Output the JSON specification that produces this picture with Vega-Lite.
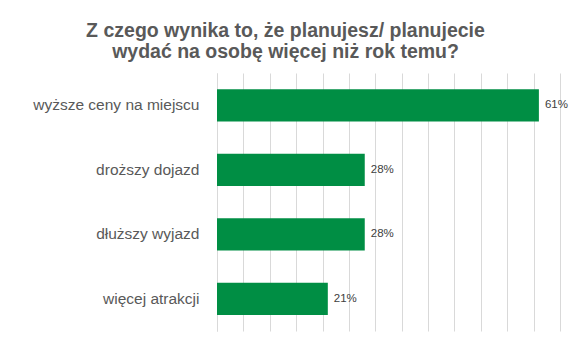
{
  "$schema": "https://vega.github.io/schema/vega-lite/v6.json",
  "width": 343,
  "height": 258,
  "autosize": "none",
  "padding": {"left": 217, "top": 73, "right": 11, "bottom": 12},
  "background": "white",
  "title": {
    "text": ["Z czego wynika to, że planujesz/ planujecie", "wydać na osobę więcej niż rok temu?"],
    "font": "Liberation Sans",
    "fontSize": 19.5,
    "fontWeight": "bold",
    "color": "#595959",
    "anchor": "middle",
    "dx": -103,
    "offset": 11,
    "lineHeight": 21
  },
  "data": {
    "values": [
      {"kategoria": "wyższe ceny na miejscu", "wartosc": 0.61},
      {"kategoria": "droższy dojazd", "wartosc": 0.28},
      {"kategoria": "dłuższy wyjazd", "wartosc": 0.28},
      {"kategoria": "więcej atrakcji", "wartosc": 0.21}
    ]
  },
  "encoding": {
    "y": {
      "field": "kategoria",
      "type": "nominal",
      "sort": null,
      "scale": {"paddingInner": 0.5, "paddingOuter": 0.25},
      "axis": {
        "title": null,
        "ticks": false,
        "domain": true,
        "domainColor": "#d9d9d9",
        "labelFont": "Liberation Sans",
        "labelFontSize": 15.5,
        "labelColor": "#595959",
        "labelPadding": 18
      }
    },
    "x": {
      "field": "wartosc",
      "type": "quantitative",
      "scale": {"domain": [0, 0.65], "nice": false},
      "axis": {
        "title": null,
        "labels": false,
        "ticks": false,
        "domain": false,
        "values": [0, 0.05, 0.1, 0.15, 0.2, 0.25, 0.3, 0.35, 0.4, 0.45, 0.5, 0.55, 0.6, 0.65],
        "grid": true,
        "gridColor": "#d9d9d9",
        "gridWidth": 1
      }
    }
  },
  "layer": [
    {"mark": {"type": "bar", "color": "#008E44"}},
    {
      "mark": {"type": "text", "align": "left", "dx": 6, "font": "Liberation Sans", "fontSize": 11.5, "color": "#404040"},
      "encoding": {"text": {"field": "wartosc", "type": "quantitative", "format": ".0%"}}
    }
  ],
  "config": {"view": {"stroke": null}}
}
